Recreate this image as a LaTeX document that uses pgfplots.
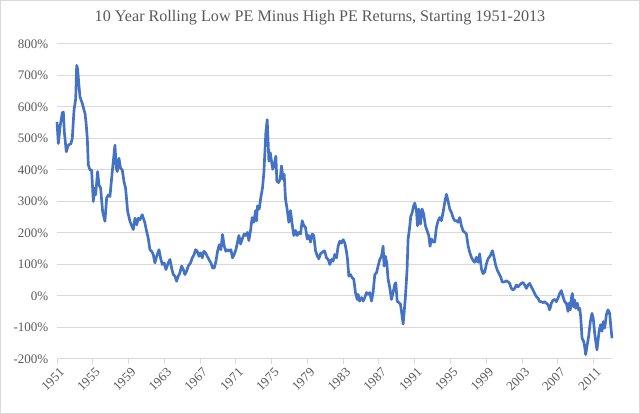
\documentclass[border=0pt]{standalone}
\usepackage{fontspec}
\setmainfont{Liberation Serif}
\usepackage{pgfplots}
\pgfplotsset{compat=1.18}
\definecolor{linecol}{HTML}{4472C4}
\definecolor{gridcol}{HTML}{D9D9D9}
\definecolor{textcol}{HTML}{595959}
\begin{document}
\begin{tikzpicture}
\useasboundingbox (0,0) rectangle (480pt,310.5pt);
\draw[gridcol, line width=0.75pt] (0.375pt,0.375pt) rectangle (479.625pt,310.125pt);
\node[text=textcol, font=\fontsize{12.1}{14}\selectfont] at (240pt,297pt) {10 Year Rolling Low PE Minus High PE Returns, Starting 1951-2013};
\begin{axis}[
 at={(42.75pt,41.25pt)}, anchor=south west,
 scale only axis, width=416.25pt, height=236.25pt,
 xmin=1951, xmax=2013.05, ymin=-200, ymax=800,
 xtick={1951,1955,...,2011},
 ytick={-200,-100,...,800},
 axis line style={draw=none},
 ymajorgrids, grid style={gridcol, line width=0.75pt},
 xtick pos=bottom, xtick align=outside,
 major tick length=3.75pt,
 x tick style={gridcol, line width=0.75pt},
 y tick style={draw=none},
 /pgf/number format/assume math mode=true,
 /pgf/number format/1000 sep={},
 tick label style={text=textcol, font=\fontsize{9.75}{11}\selectfont},
 yticklabel={\pgfmathprintnumber[fixed,precision=0]{\tick}\%},
 yticklabel style={anchor=east, xshift=-3pt},
 xticklabel style={rotate=45, anchor=north east, inner sep=0.5pt, yshift=-2pt},
 clip=false,
]
\addplot[linecol, line width=2pt, line join=round, mark=none] coordinates {
(1951.00,553) (1951.15,484) (1951.34,537) (1951.60,582) (1951.71,584) (1951.82,521)
(1952.04,458) (1952.27,479) (1952.56,484) (1952.71,500) (1952.90,589) (1953.09,626)
(1953.20,732) (1953.31,721) (1953.42,679) (1953.57,632) (1953.83,611) (1954.13,579)
(1954.24,553) (1954.39,500) (1954.50,416) (1954.69,400) (1954.87,400) (1955.06,300)
(1955.17,342) (1955.32,321) (1955.54,395) (1955.69,353) (1955.88,342) (1956.10,268)
(1956.36,237) (1956.55,311) (1956.74,321) (1956.92,316) (1957.11,374) (1957.29,426)
(1957.48,479) (1957.63,405) (1957.74,395) (1957.93,437) (1958.11,405) (1958.30,400)
(1958.49,363) (1958.67,342) (1958.90,268) (1959.16,237) (1959.53,211) (1959.72,247)
(1959.91,226) (1960.09,247) (1960.27,242) (1960.53,258)
(1960.83,232) (1961.02,205) (1961.20,184) (1961.39,147) (1961.58,142) (1961.76,132)
(1961.95,105) (1962.14,126) (1962.40,147) (1962.58,121) (1962.77,100) (1962.99,105)
(1963.18,84) (1963.44,105) (1963.63,116) (1963.81,89) (1964.00,68) (1964.18,63)
(1964.37,47) (1964.56,63) (1964.74,74) (1964.93,95) (1965.12,84) (1965.30,68)
(1965.49,79) (1965.67,95) (1965.93,105) (1966.12,121) (1966.34,132) (1966.49,147)
(1966.68,142) (1966.87,126) (1967.05,137) (1967.24,121) (1967.42,142) (1967.61,137)
(1967.80,126) (1967.98,116) (1968.21,105) (1968.39,89) (1968.58,89) (1968.77,110)
(1968.95,142) (1969.14,163) (1969.32,147) (1969.51,195) (1969.70,158) (1969.88,142)
(1970.07,147) (1970.25,142) (1970.44,147) (1970.63,121) (1970.81,132) (1971.00,147)
(1971.34,192) (1971.52,165) (1971.71,181) (1971.93,197) (1972.12,192) (1972.30,202)
(1972.45,176) (1972.64,208) (1972.82,249) (1973.01,234) (1973.20,271) (1973.31,239)
(1973.42,286) (1973.61,276) (1973.79,313) (1973.98,344) (1974.13,392) (1974.24,455)
(1974.35,518) (1974.50,560) (1974.61,486) (1974.69,428) (1974.84,455) (1974.98,428)
(1975.13,402) (1975.28,418) (1975.47,444) (1975.58,365) (1975.77,360) (1975.95,370)
(1976.10,413) (1976.29,370) (1976.40,386) (1976.55,307) (1976.73,276) (1976.92,234)
(1977.11,271) (1977.29,228) (1977.48,192) (1977.67,208) (1977.85,192) (1978.04,202)
(1978.23,197) (1978.41,239) (1978.60,223) (1978.78,218) (1978.97,181) (1979.16,192)
(1979.34,171) (1979.53,197) (1979.71,192) (1979.90,144) (1980.09,128) (1980.27,118)
(1980.46,134) (1980.68,139) (1980.87,144)
(1980.94,142) (1981.13,121) (1981.32,116) (1981.50,100) (1981.69,116) (1981.87,111)
(1982.06,132) (1982.25,121) (1982.43,158) (1982.62,174) (1982.81,168) (1982.99,179)
(1983.18,168) (1983.36,142) (1983.48,116) (1983.63,63) (1983.81,68) (1984.00,58)
(1984.18,53) (1984.37,11) (1984.56,-11) (1984.67,5) (1984.82,-16) (1985.04,-5)
(1985.23,-16) (1985.41,-5) (1985.60,11) (1985.79,5) (1985.97,11) (1986.16,-16)
(1986.34,11) (1986.53,68) (1986.72,74) (1986.90,95) (1987.09,116) (1987.28,126)
(1987.46,158) (1987.57,95) (1987.72,126) (1987.87,105) (1988.02,53) (1988.21,26)
(1988.39,-11) (1988.58,11) (1988.76,37) (1988.88,42) (1989.03,-16) (1989.21,-21)
(1989.40,-26) (1989.58,-63) (1989.70,-89) (1989.81,-53) (1989.96,0) (1990.14,84)
(1990.25,179) (1990.44,221) (1990.55,253) (1990.70,263) (1990.85,284) (1991.00,295)
(1991.19,271) (1991.30,223) (1991.45,276) (1991.63,228) (1991.82,276) (1992.00,260)
(1992.19,223) (1992.38,207) (1992.56,192) (1992.71,158) (1992.86,181) (1993.05,171)
(1993.23,171) (1993.42,218) (1993.61,239) (1993.79,249) (1993.98,239) (1994.16,265)
(1994.35,297) (1994.54,323) (1994.72,302) (1994.91,276) (1995.10,265) (1995.28,249)
(1995.47,239) (1995.66,239) (1995.84,234) (1996.03,249) (1996.21,223) (1996.40,207)
(1996.59,202) (1996.77,197) (1996.96,160) (1997.14,139) (1997.33,123) (1997.52,113)
(1997.70,107) (1997.89,123) (1998.08,107) (1998.26,134) (1998.45,86) (1998.63,71)
(1998.82,76) (1999.01,102) (1999.19,118) (1999.45,128) (1999.68,144) (1999.86,123)
(2000.05,97) (2000.24,81) (2000.42,71) (2000.61,60) (2000.79,44) (2001.05,45)
(2001.24,48) (2001.43,45) (2001.61,40) (2001.80,24) (2001.99,19) (2002.17,24)
(2002.36,35) (2002.55,29) (2002.73,35) (2002.92,40) (2003.10,43) (2003.29,35)
(2003.48,24) (2003.66,35) (2003.85,40) (2004.04,29) (2004.22,19) (2004.41,8)
(2004.59,-2) (2004.78,-7) (2004.97,-18) (2005.15,-18) (2005.34,-21) (2005.53,-18)
(2005.71,-23) (2005.90,-28) (2006.08,-44) (2006.27,-23) (2006.46,-13) (2006.64,-11)
(2006.83,-18) (2007.01,-7) (2007.20,8) (2007.39,17) (2007.57,-2) (2007.76,-18)
(2007.95,-23) (2008.13,-49) (2008.24,-23) (2008.39,-44) (2008.50,-7) (2008.62,8)
(2008.73,-34) (2008.88,-13) (2008.99,-39) (2009.17,-23) (2009.32,-44) (2009.44,-39)
(2009.55,-65) (2009.70,-134) (2009.88,-144) (2009.99,-160) (2010.11,-186) (2010.25,-160)
(2010.44,-128) (2010.63,-81) (2010.81,-55) (2010.96,-72) (2011.11,-118) (2011.26,-149)
(2011.37,-171) (2011.48,-144) (2011.63,-107) (2011.78,-91) (2011.93,-112) (2012.08,-81)
(2012.23,-102) (2012.42,-60) (2012.60,-44) (2012.79,-55) (2012.90,-91) (2013.05,-134)
};
\end{axis}
\end{tikzpicture}
\end{document}
